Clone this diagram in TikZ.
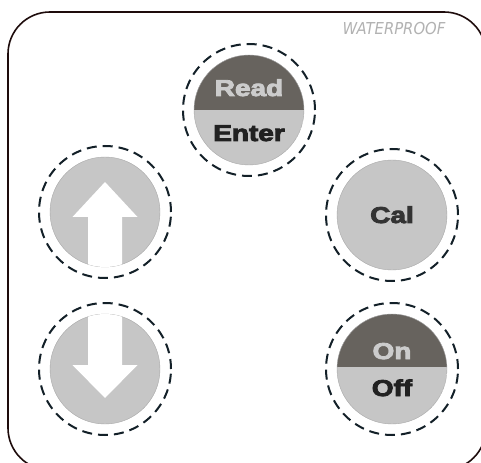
\documentclass[tikz,border=0pt]{standalone}
\usepackage{fontspec}
\setsansfont{DejaVu Sans}
\newfontfamily\keyfont[FakeBold=3.5]{Liberation Sans}
\usepackage{tikz}
\usetikzlibrary{%
  calc%
}
\definecolor{keydark}{HTML}{67635E}
\definecolor{keylight}{HTML}{C6C6C6}
\definecolor{ringcol}{HTML}{132028}
\definecolor{framecol}{HTML}{1E0C0C}
\tikzset{>=latex}
\tikzset{
  ring/.style={ringcol,line width=2bp,dash pattern=on 10bp off 6bp},
  keyface/.style={fill=keylight,draw=keylight!85!black,line width=0.4bp},
  keylabel/.style={font=\keyfont\bfseries\fontsize{23}{23}\selectfont,
    xscale=1.22,inner sep=0pt,anchor=base}
}

\begin{document}
\begin{tikzpicture}[x=1bp,y=-1bp]
    \useasboundingbox (0,0) rectangle (481,463);
    \clip (0,0) rectangle (481,463);
    \draw[framecol,line width=1.6bp,rounded corners=42bp] (8,12) rectangle (486,470);
    \node[font=\sffamily\itshape\fontsize{16.5}{16.5}\selectfont,text=gray!60,
      xscale=0.9,inner sep=0pt] (wp) at (394,29) {WATERPROOF};

    \coordinate (read) at (249,110);
    \coordinate (cal) at (392,215);
    \coordinate (up) at (105,212);
    \coordinate (down) at (105,369);
    \coordinate (on) at (392,369);

    % Read / Enter
    \begin{scope}
      \clip (read) circle (55bp);
      \fill[keylight] (read) circle (55bp);
      \fill[keydark] ($(read)+(-60,-60)$) rectangle ($(read)+(60,0)$);
    \end{scope}
    \draw[keylight!85!black,line width=0.4bp] (read) circle (55bp);
    \draw[ring] (read) circle (66bp);
    \node[keylabel,text=keylight!90!white] (readtxt) at ($(read)+(0,-14)$) {Read};
    \node[keylabel,text=black!87] (entertxt) at ($(read)+(0,31)$) {Enter};

    % Cal
    \draw[keyface] (cal) circle (55bp);
    \draw[ring] (cal) circle (66bp);
    \node[keylabel,text=black!80] (caltxt) at ($(cal)+(0,8)$) {Cal};

    % up
    \draw[keyface] (up) circle (55bp);
    \begin{scope}
      \clip (up) circle (55bp);
      \fill[white] ($(up)+(0,-30)$) -- ($(up)+(32.5,5)$) -- ($(up)+(17,5)$)
        -- ($(up)+(17,70)$) -- ($(up)+(-17,70)$) -- ($(up)+(-17,5)$)
        -- ($(up)+(-32.5,5)$) -- cycle;
    \end{scope}
    \draw[ring] (up) circle (66bp);

    % down
    \draw[keyface] (down) circle (55bp);
    \begin{scope}
      \clip (down) circle (55bp);
      \fill[white] ($(down)+(0,29)$) -- ($(down)+(32.5,-4)$) -- ($(down)+(17,-4)$)
        -- ($(down)+(17,-70)$) -- ($(down)+(-17,-70)$) -- ($(down)+(-17,-4)$)
        -- ($(down)+(-32.5,-4)$) -- cycle;
    \end{scope}
    \draw[ring] (down) circle (66bp);

    % On / Off
    \begin{scope}
      \clip (on) circle (55bp);
      \fill[keylight] (on) circle (55bp);
      \fill[keydark] ($(on)+(-60,-60)$) rectangle ($(on)+(60,-2)$);
    \end{scope}
    \draw[keylight!85!black,line width=0.4bp] (on) circle (55bp);
    \draw[ring] (on) circle (66bp);
    \node[keylabel,text=keylight!90!white] (ontxt) at ($(on)+(0,-10)$) {On};
    \node[keylabel,text=black!87] (offtxt) at ($(on)+(0,27)$) {Off};
\end{tikzpicture}
\end{document}
